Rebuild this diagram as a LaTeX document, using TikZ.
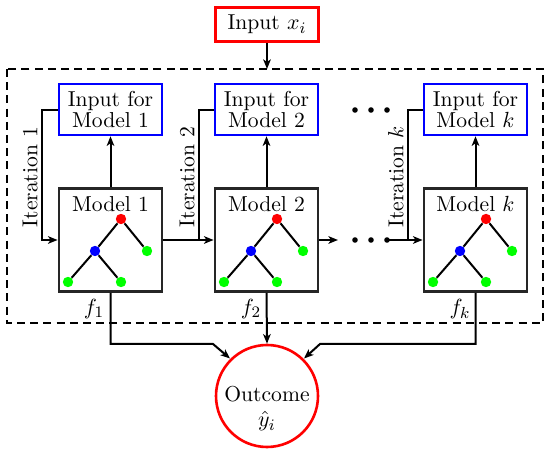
\documentclass[tikz,border=0pt]{standalone}
\usetikzlibrary{arrows.meta}
\begin{document}
\begin{tikzpicture}[x=0.5pt,y=-0.5pt,font=\fontsize{10.8}{13}\selectfont,
  conn/.style={line width=1pt,-{Stealth[length=4.8pt,width=3.8pt,inset=1.3pt]}},
  line/.style={line width=1pt},
  inbox/.style={draw=red,line width=1.3pt,minimum width=51.5pt,minimum height=17pt,inner sep=0pt},
  bluebox/.style={draw=blue,line width=1.3pt,minimum width=51.5pt,minimum height=25.5pt,inner sep=0pt,align=center,text width=50pt,font=\fontsize{10.8}{10.8}\selectfont},
  modbox/.style={draw=black!85,line width=1.4pt,minimum width=51.5pt,minimum height=51.5pt,inner sep=0pt},
  tn/.style={circle,inner sep=0pt,minimum size=5.2pt},
  edge/.style={line width=1pt},
  dotn/.style={circle,fill=black,inner sep=0pt,minimum size=2.8pt},
  itl/.style={rotate=90,inner sep=0pt}]
\useasboundingbox (0,0) rectangle (550,453);
% input
\node[inbox] (in) at (267,24.5) {Input $x_i$};
% dashed frame
\draw[line width=0.7pt,dash pattern=on 4pt off 2.6pt] (7,69) rectangle (543,323);
\coordinate (ftop) at (267,69);
\draw[conn] (in.south) -- (ftop);
% blue boxes
\node[bluebox] (b1) at (110.5,109.5) {Input for\\Model 1};
\node[bluebox] (b2) at (266.5,109.5) {Input for\\Model 2};
\node[bluebox] (bk) at (475.5,109.5) {Input for\\Model $k$};
% model boxes with trees
\foreach \n/\cx/\lab in {1/110.5/Model 1,2/266.5/Model 2,k/475.5/Model $k$}{
  \node[modbox] (m\n) at (\cx,240) {};
  \node[inner sep=0pt] (t\n) at (\cx,204) {\lab};
  \node[tn,fill=red] (r\n) at (\cx+10.5,219) {};
  \node[tn,fill=blue] (u\n) at (\cx-15.5,251) {};
  \node[tn,fill=green] (g\n) at (\cx+36.5,251) {};
  \node[tn,fill=green] (h\n) at (\cx-42.5,282) {};
  \node[tn,fill=green] (j\n) at (\cx+10.5,282) {};
  \draw[edge] (r\n) -- (u\n) (r\n) -- (g\n) (u\n) -- (h\n) (u\n) -- (j\n);
  \draw[conn] (m\n.north) -- (b\n.south);
}
% iteration loops
\coordinate (c1a) at (42,110); \coordinate (c1b) at (42,240);
\coordinate (c2a) at (199,110); \coordinate (c2b) at (199,240);
\coordinate (cka) at (408,110); \coordinate (ckb) at (408,240);
\draw[conn] (b1.west |- c1a) -- (c1a) -- (c1b) -- (m1.west |- c1b);
\draw[line] (b2.west |- c2a) -- (c2a) -- (c2b);
\draw[line] (bk.west |- cka) -- (cka) -- (ckb);
\node[itl] (i1) at (30,177) {Iteration 1};
\node[itl] (i2) at (187,177) {Iteration 2};
\node[itl] (ik) at (396,177) {Iteration $k$};
% chain
\draw[conn] (m1.east |- c1b) -- (m2.west |- c2b);
\coordinate (m2r) at (338,240);
\draw[conn] (m2.east |- c2b) -- (m2r);
\node[dotn] (d1) at (355,240) {};
\node[dotn] (d2) at (371,240) {};
\node[dotn] (d3) at (387,240) {};
\node[dotn] (e1) at (355,110) {};
\node[dotn] (e2) at (371,110) {};
\node[dotn] (e3) at (387,110) {};
\draw[conn] (d3.center) -- (mk.west |- ckb);
% f labels
\node (f1) at (94,309) {$f_1$};
\node (f2) at (251,309) {$f_2$};
\node (fk) at (460,309) {$f_k$};
% outcome
\node[circle,draw=red,line width=1.3pt,minimum size=51pt,inner sep=0pt] (out) at (267,396) {};
\node[align=center,inner sep=0pt,font=\fontsize{10.8}{12.5}\selectfont] (outt) at (267,409) {Outcome\\$\hat{y}_i$};
\coordinate (o1a) at (110.5,344); \coordinate (o1b) at (213,344); \coordinate (o1c) at (230,358.5);
\coordinate (oka) at (475.5,344); \coordinate (okb) at (320,344); \coordinate (okc) at (304,358.5);
\draw[conn] (m1.south) -- (o1a) -- (o1b) -- (o1c);
\draw[conn] (m2.south) -- (out.north);
\draw[conn] (mk.south) -- (oka) -- (okb) -- (okc);
\end{tikzpicture}
\end{document}
